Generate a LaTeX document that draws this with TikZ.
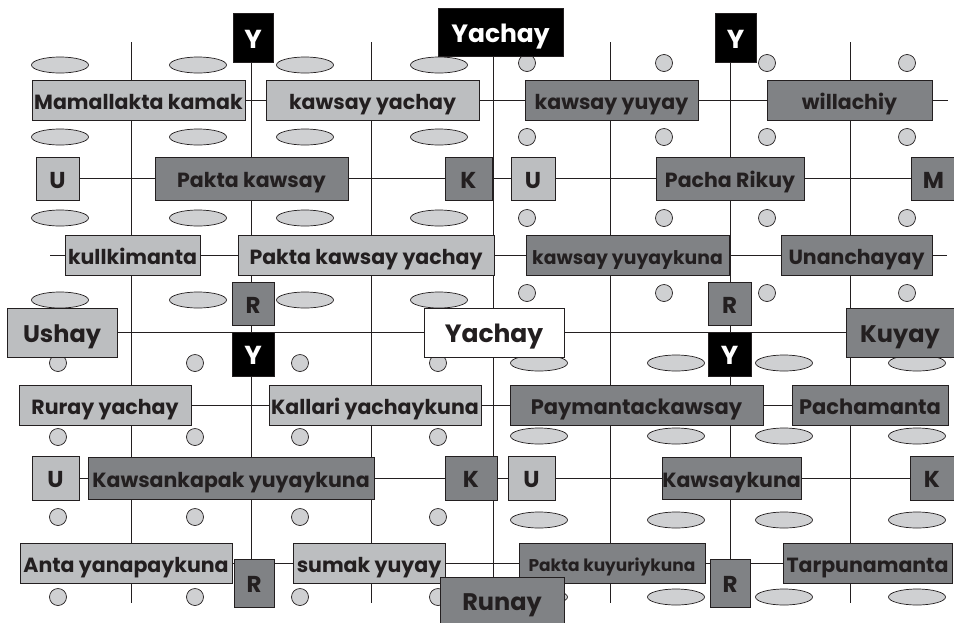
\documentclass[tikz,border=0pt]{standalone}
\usepackage{fontspec}
\setmainfont{Poppins}
\usetikzlibrary{backgrounds}
\definecolor{lite}{HTML}{BCBEC0}
\definecolor{dark}{HTML}{808285}
\definecolor{spot}{HTML}{CFD0D2}
\definecolor{ink}{HTML}{231F20}
\begin{document}
\begin{tikzpicture}[x=1pt,y=-1pt,
  box/.style={draw=ink,line width=0.8pt,inner sep=0pt,text=ink,text height=18pt,text depth=0pt,
    font=\fontsize{20.5}{23}\selectfont\bfseries},
  lbox/.style={box,fill=lite},
  dbox/.style={box,fill=dark},
  bbox/.style={box,fill=black,text=white,font=\fontsize{26}{29}\selectfont\bfseries,text height=21pt},
  letter/.style={font=\fontsize{23}{26}\selectfont\bfseries,minimum width=43,minimum height=43,text height=19pt},
  big/.style={font=\fontsize{24}{27}\selectfont\bfseries,minimum height=49,text height=20pt}]
\useasboundingbox (0,0) rectangle (954,622);

% top labels
\node[bbox,minimum width=40,minimum height=49] (ytopa) at (253,37.5) {Y};
\node[bbox,minimum width=125,minimum height=48,font=\fontsize{25}{28}\selectfont\bfseries] (yachaytop) at (500.5,32) {Yachay};
\node[bbox,minimum width=41,minimum height=49] (ytopb) at (735.5,37.5) {Y};

% first row
\node[lbox,minimum width=213,minimum height=40] (mamallakta) at (138.5,100) {Mamallakta kamak};
\node[lbox,minimum width=213,minimum height=40] (kyachay) at (372.5,100) {kawsay yachay};
\node[dbox,minimum width=173,minimum height=40] (kyuyay) at (611.5,100) {kawsay yuyay};
\node[dbox,minimum width=165,minimum height=40] (willachiy) at (849.5,100) {willachiy};
\coordinate (enda) at (948,100);

% second row
\node[lbox,letter,minimum width=43] (ua) at (57.5,178.5) {U};
\node[dbox,minimum width=193,minimum height=43] (pkawsay) at (251.5,178.5) {Pakta kawsay};
\node[dbox,letter,minimum width=47] (ka) at (468.5,178.5) {K};
\node[lbox,letter,minimum width=44] (ub) at (533,178.5) {U};
\node[dbox,minimum width=148,minimum height=43] (prikuy) at (730,178.5) {Pacha Rikuy};
\node[dbox,letter,minimum width=45] (m) at (933.5,178.5) {M};

% third row
\coordinate (startc) at (50,255);
\node[lbox,minimum width=135,minimum height=40] (kullki) at (132.5,255) {kullkimanta};
\node[lbox,minimum width=256,minimum height=40] (pkyachay) at (366,255) {Pakta kawsay yachay};
\node[dbox,minimum width=203,minimum height=40,font=\fontsize{18.8}{21}\selectfont\bfseries] (kyuyayk) at (627.5,255) {kawsay yuyaykuna};
\node[dbox,minimum width=151,minimum height=40] (unancha) at (856.5,255) {Unanchayay};
\coordinate (endc) at (947,255);

\node[dbox,letter,minimum width=42] (ra) at (253,303.5) {R};
\node[dbox,letter,minimum width=43] (rb) at (729.5,303.5) {R};

% middle row
\node[lbox,big,minimum width=110] (ushay) at (62,332.5) {Ushay};
\node[box,big,fill=white,minimum width=140,font=\fontsize{25}{28}\selectfont\bfseries] (yachay) at (494,332.5) {Yachay};
\node[dbox,big,minimum width=108] (kuyay) at (900,332.5) {Kuyay};

\node[bbox,minimum width=42,minimum height=44] (yla) at (253,354) {Y};
\node[bbox,minimum width=43,minimum height=44] (ylb) at (729.5,354) {Y};

% fifth row
\node[lbox,minimum width=172,minimum height=40] (ruray) at (105,405) {Ruray yachay};
\node[lbox,minimum width=212,minimum height=40] (kallari) at (375,405) {Kallari yachaykuna};
\node[dbox,minimum width=253,minimum height=40,font=\fontsize{21}{24}\selectfont\bfseries] (payman) at (636.5,405) {Paymantackawsay};
\node[dbox,minimum width=156,minimum height=40,font=\fontsize{21}{24}\selectfont\bfseries] (pachaman) at (870,405) {Pachamanta};

% sixth row
\node[lbox,letter,minimum width=47,minimum height=44] (uc) at (55.5,478) {U};
\node[dbox,minimum width=286,minimum height=42] (kawsank) at (231,478) {Kawsankapak yuyaykuna};
\node[dbox,letter,minimum width=52,minimum height=44] (kb) at (471,478) {K};
\node[lbox,letter,minimum width=47,minimum height=44] (ud) at (531.5,478) {U};
\node[dbox,minimum width=139,minimum height=42] (kawsayk) at (731.5,478) {Kawsaykuna};
\node[dbox,letter,minimum width=44,minimum height=44] (kc) at (932,478) {K};

% bottom row
\node[lbox,minimum width=212,minimum height=40] (anta) at (126,563) {Anta yanapaykuna};
\node[dbox,letter,minimum width=40,minimum height=48] (rc) at (254,583) {R};
\node[lbox,minimum width=152,minimum height=40] (sumak) at (369,563) {sumak yuyay};
\node[dbox,minimum width=186,minimum height=40,font=\fontsize{17}{20}\selectfont\bfseries,text height=16pt] (pkuyuri) at (612,563) {Pakta kuyuriykuna};
\node[dbox,letter,minimum width=40,minimum height=48] (rd) at (730,583) {R};
\node[dbox,minimum width=169,minimum height=40] (tarpuna) at (867.5,563) {Tarpunamanta};
\node[dbox,big,minimum width=124,minimum height=46] (runay) at (502,600) {Runay};

\begin{scope}[on background layer]
\foreach \x in {131,251,371,493,610,730,850}{
    \draw[ink,line width=0.8pt] (\x,42) -- (\x,603);
}
\foreach \Point in {(60,65),(198,65),(305,65),(439,65),(60,137),(198,137),(305,137),(439,137),
  (60,218),(198,218),(305,218),(439,218),(60,300),(198,300),(305,300),(439,300),
  (539,363),(676,363),(784,363),(917,363),(539,436),(676,436),(784,436),(917,436),
  (539,520),(676,520),(784,520),(917,520),(539,597),(676,597),(784,597),(917,597)}{
    \draw[ink,fill=spot,line width=0.7pt] \Point ellipse [x radius=28.5pt,y radius=8pt];
}
\foreach \Point in {(527,63),(664,63),(767,63),(907,63),(527,137),(664,137),(767,137),(907,137),
  (527,218),(664,218),(767,218),(907,218),(527,293),(664,293),(767,293),(907,293),
  (58,363),(195,363),(300,363),(438,363),(58,437),(195,437),(300,437),(438,437),
  (58,517),(195,517),(300,517),(438,517),(58,597),(195,597),(300,597),(438,597)}{
    \draw[ink,fill=spot,line width=0.7pt] \Point circle [radius=8.5pt];
}
\draw[ink,line width=0.8pt] (mamallakta) -- (kyachay) -- (kyuyay) -- (willachiy) -- (enda);
\draw[ink,line width=0.8pt] (ua) -- (pkawsay) -- (ka) -- (ub) -- (prikuy) -- (m);
\draw[ink,line width=0.8pt] (startc) -- (kullki) -- (pkyachay) -- (kyuyayk) -- (unancha) -- (endc);
\draw[ink,line width=0.8pt] (ushay) -- (yachay) -- (kuyay);
\draw[ink,line width=0.8pt] (ruray) -- (kallari) -- (payman) -- (pachaman);
\draw[ink,line width=0.8pt] (uc) -- (kawsank) -- (kb) -- (ud) -- (kawsayk) -- (kc);
\draw[ink,line width=0.8pt] (anta) -- (sumak) -- (pkuyuri) -- (tarpuna);
\end{scope}
\end{tikzpicture}
\end{document}
